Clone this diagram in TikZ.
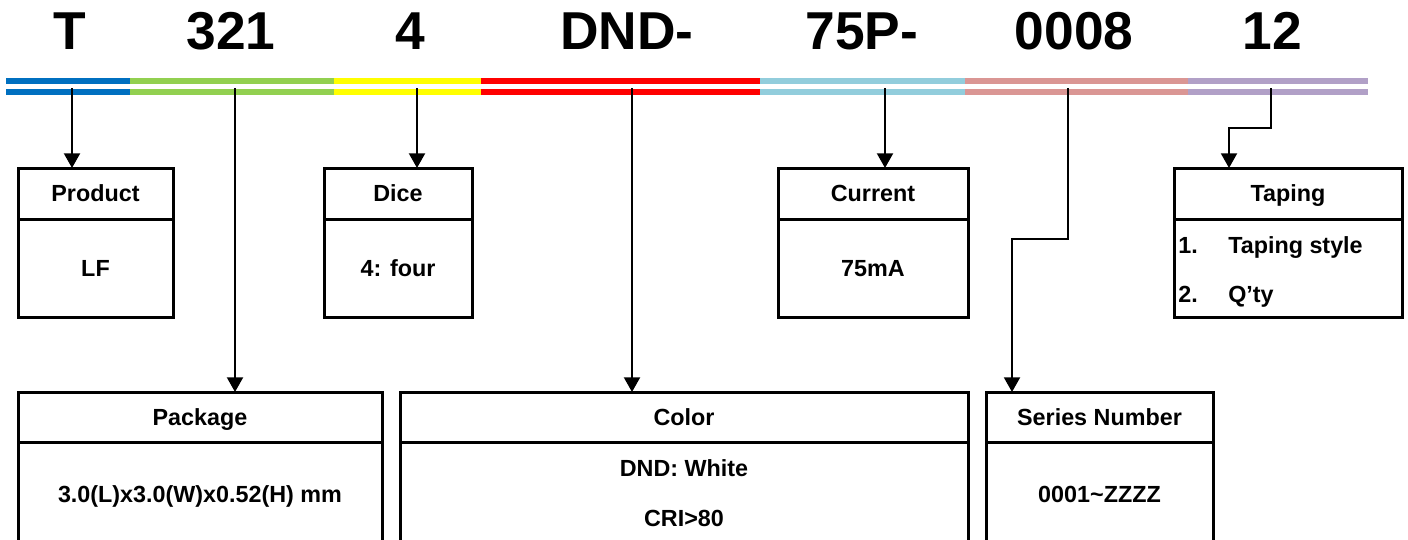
\documentclass[tikz,border=0pt]{standalone}
\usepackage{fontspec}
\setmainfont{Liberation Sans}
\usetikzlibrary{arrows.meta}
\definecolor{cBlue}{HTML}{0070C0}
\definecolor{cGreen}{HTML}{92D050}
\definecolor{cYellow}{HTML}{FFFF00}
\definecolor{cRed}{HTML}{FF0000}
\definecolor{cCyan}{HTML}{92CDDC}
\definecolor{cPink}{HTML}{DA9694}
\definecolor{cPurple}{HTML}{B1A0C7}
\begin{document}
\begin{tikzpicture}[x=0.75pt,y=-0.75pt,
  bar/.style={line width=4.5pt},
  arr/.style={line width=1.5pt,-{Triangle[width=12pt,length=11pt]}},
  box/.style={draw,line width=2.25pt,inner sep=0pt,outer sep=0pt,text height=12.5pt,text depth=0pt,font=\fontsize{17.5}{21}\selectfont\bfseries},
  big/.style={font=\fontsize{40}{48}\selectfont\bfseries,anchor=base,inner sep=0pt},
  txt/.style={font=\fontsize{17.5}{21}\selectfont\bfseries,inner sep=0pt,text height=12.5pt,text depth=0pt}]
\clip (0,0) rectangle (1408,539);
\fill[white] (0,0) rectangle (1408,539);

% code letters
\node[big] (lT)   at (70,49)   {T};
\node[big] (l321) at (231,49)  {321};
\node[big] (l4)   at (410,49)  {4};
\node[big] (lDND) at (627,49)  {DND-};
\node[big] (l75)  at (862,49)  {75P-};
\node[big] (l008) at (1074,49) {0008};
\node[big] (l12)  at (1272,49) {12};

% coloured double bars
\foreach \ya in {81,92}{
  \draw[bar,cBlue]   (6,\ya)    -- (130,\ya);
  \draw[bar,cGreen]  (130,\ya)  -- (334,\ya);
  \draw[bar,cYellow] (334,\ya)  -- (481,\ya);
  \draw[bar,cRed]    (481,\ya)  -- (760,\ya);
  \draw[bar,cCyan]   (760,\ya)  -- (965,\ya);
  \draw[bar,cPink]   (965,\ya)  -- (1188,\ya);
  \draw[bar,cPurple] (1188,\ya) -- (1368,\ya);
}

% top boxes
\node[box,minimum width=155*0.75pt,minimum height=51*0.75pt] (prodH) at (95.5,193.5) {Product};
\node[box,minimum width=155*0.75pt,minimum height=98*0.75pt,anchor=north] (prodB) at (prodH.south) {LF};

\node[box,minimum width=148*0.75pt,minimum height=51*0.75pt] (diceH) at (398,193.5) {Dice};
\node[box,minimum width=148*0.75pt,minimum height=98*0.75pt,anchor=north] (diceB) at (diceH.south) {4: four};

\node[box,minimum width=190*0.75pt,minimum height=51*0.75pt] (curH) at (873,193.5) {Current};
\node[box,minimum width=190*0.75pt,minimum height=98*0.75pt,anchor=north] (curB) at (curH.south) {75mA};

\node[box,minimum width=228*0.75pt,minimum height=51*0.75pt] (tapH) at (1288,193.5) {Taping};
\node[box,minimum width=228*0.75pt,minimum height=98*0.75pt,anchor=north] (tapB) at (tapH.south) {};
\node[txt,anchor=west] (tap1n) at (1178,245) {1.};
\node[txt,anchor=west] (tap1)  at (1228,245) {Taping style};
\node[txt,anchor=west] (tap2n) at (1178,294) {2.};
\node[txt,anchor=west] (tap2)  at (1228,294) {Q’ty};

% bottom boxes
\node[box,minimum width=364*0.75pt,minimum height=50*0.75pt] (pkgH) at (200,417) {Package};
\node[box,minimum width=364*0.75pt,minimum height=160*0.75pt,anchor=north] (pkgB) at (pkgH.south) {};
\node[txt] (pkgT) at (200,494) {3.0(L)x3.0(W)x0.52(H) mm};

\node[box,minimum width=568*0.75pt,minimum height=50*0.75pt] (colH) at (684,417) {Color};
\node[box,minimum width=568*0.75pt,minimum height=160*0.75pt,anchor=north] (colB) at (colH.south) {};
\node[txt] (colT1) at (684,468) {DND: White};
\node[txt] (colT2) at (684,518) {CRI>80};

\node[box,minimum width=227*0.75pt,minimum height=50*0.75pt] (serH) at (1099.5,417) {Series Number};
\node[box,minimum width=227*0.75pt,minimum height=160*0.75pt,anchor=north] (serB) at (serH.south) {};
\node[txt] (serT) at (1099.5,494) {0001\textasciitilde ZZZZ};

% connectors
\coordinate (sT)   at (72,88);
\coordinate (s321) at (235,88);
\coordinate (s4)   at (417,88);
\coordinate (sDND) at (632,88);
\coordinate (s75)  at (885,88);
\coordinate (s008) at (1068,88);
\coordinate (k008) at (1012,239);
\coordinate (s12)  at (1271,88);
\coordinate (k12)  at (1229,128);

\draw[arr] (sT)   -- (sT |- prodH.north);
\draw[arr] (s321) -- (s321 |- pkgH.north);
\draw[arr] (s4)   -- (s4 |- diceH.north);
\draw[arr] (sDND) -- (sDND |- colH.north);
\draw[arr] (s75)  -- (s75 |- curH.north);
\draw[arr] (s008) |- (k008) -- (k008 |- serH.north);
\draw[arr] (s12)  |- (k12) -- (k12 |- tapH.north);
\end{tikzpicture}
\end{document}
